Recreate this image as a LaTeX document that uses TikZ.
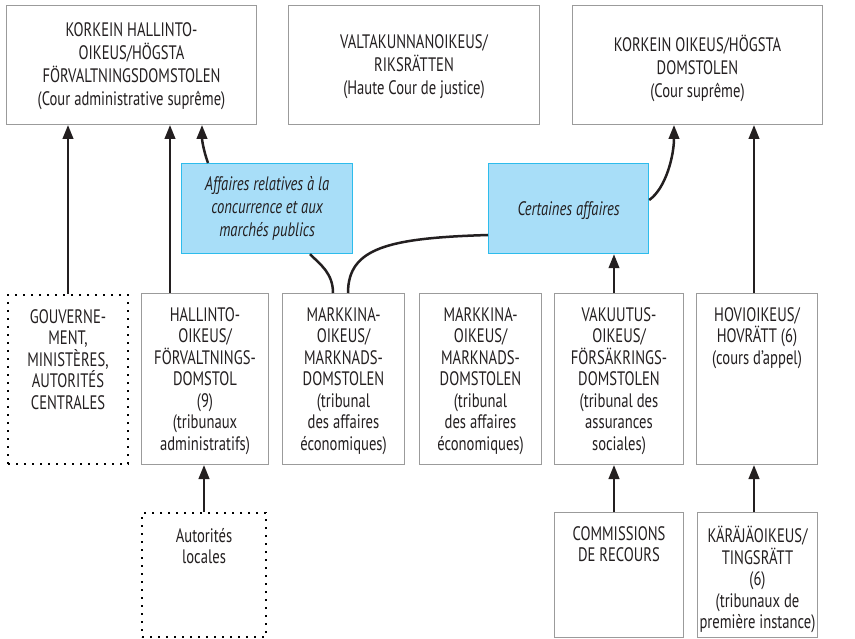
\documentclass[tikz,border=0pt]{standalone}
\usepackage{fontspec}
\setmainfont{PT Sans}[FakeStretch=0.75]
\usetikzlibrary{arrows.meta}
\definecolor{boxgray}{RGB}{155,155,155}
\definecolor{bluefill}{RGB}{168,222,248}
\definecolor{bluedraw}{RGB}{45,188,236}
\definecolor{textc}{RGB}{35,31,32}
\definecolor{linec}{RGB}{35,31,32}
\tikzset{
  box/.style={draw=boxgray, line width=1pt, fill=white, inner sep=0pt, anchor=north west},
  dotbox/.style={draw=black, line width=2pt, dash pattern=on 2pt off 6pt, inner sep=0pt, anchor=north west},
  bluebox/.style={draw=bluedraw, fill=bluefill, line width=1.2pt, inner sep=0pt, anchor=north west},
  txttop/.style={align=center, font=\fontsize{19.5}{23}\selectfont, text=textc, inner sep=0pt, anchor=north, execute at begin node=\strut},
  txtbot/.style={align=center, font=\fontsize{19.5}{21.5}\selectfont, text=textc, inner sep=0pt, anchor=north, execute at begin node=\strut},
  txtit/.style={align=center, font=\fontsize{19.5}{23}\selectfont\itshape, text=textc, inner sep=0pt, anchor=north, execute at begin node=\strut},
  arr/.style={line width=2.5pt, draw=linec, -{Triangle[width=10.5pt,length=14pt]}},
  conn/.style={line width=2.5pt, draw=linec}
}
\begin{document}
\begin{tikzpicture}[x=1pt,y=-1pt]
\useasboundingbox (0,0) rectangle (855,639);
\fill[white] (0,0) rectangle (855,639);
% top row
\node[box, minimum width=250pt, minimum height=119pt] (a) at (6,5) {};
\node[box, minimum width=251pt, minimum height=119pt] (b) at (288,5) {};
\node[box, minimum width=250pt, minimum height=119pt] (c) at (572,5) {};
\node[txttop] (at) at ([yshift=-17.9pt]a.north) {KORKEIN HALLINTO-\\OIKEUS/HÖGSTA\\FÖRVALTNINGSDOMSTOLEN\\(Cour administrative suprême)};
\node[txttop] (bt) at ([yshift=-29.9pt]b.north) {VALTAKUNNANOIKEUS/\\RIKSRÄTTEN\\(Haute Cour de justice)};
\node[txttop] (ct) at ([yshift=-29.9pt]c.north) {KORKEIN OIKEUS/HÖGSTA\\DOMSTOLEN\\(Cour suprême)};
% blue boxes
\node[bluebox, minimum width=171pt, minimum height=90pt] (b1) at (181,163) {};
\node[bluebox, minimum width=160pt, minimum height=90pt] (b2) at (488,163) {};
\node[txtit] (b1t) at ([yshift=-12.9pt]b1.north) {Affaires relatives à la\\concurrence et aux\\marchés publics};
\node[txtit] (b2t) at ([yshift=-35.9pt]b2.north) {Certaines affaires};
% middle row
\node[dotbox, minimum width=120pt, minimum height=169pt] (gouv) at (7,294) {};
\node[box, minimum width=127pt, minimum height=171pt] (hall) at (141,293) {};
\node[box, minimum width=122pt, minimum height=171pt] (mark1) at (282,293) {};
\node[box, minimum width=122pt, minimum height=171pt] (mark2) at (419,293) {};
\node[box, minimum width=129pt, minimum height=171pt] (vak) at (554,293) {};
\node[box, minimum width=121pt, minimum height=171pt] (hovi) at (696,293) {};
\node[txtbot] (gouvt) at ([yshift=-14.95pt]gouv.north) {GOUVERNE-\\MENT,\\MINISTÈRES,\\AUTORITÉS\\CENTRALES};
\node[txtbot] (hallt) at ([yshift=-13.95pt]hall.north) {HALLINTO-\\OIKEUS/\\FÖRVALTNINGS-\\DOMSTOL\\(9)\\(tribunaux\\administratifs)};
\node[txtbot] (mark1t) at ([yshift=-13.95pt]mark1.north) {MARKKINA-\\OIKEUS/\\MARKNADS-\\DOMSTOLEN\\(tribunal\\des affaires\\économiques)};
\node[txtbot] (mark2t) at ([yshift=-13.95pt]mark2.north) {MARKKINA-\\OIKEUS/\\MARKNADS-\\DOMSTOLEN\\(tribunal\\des affaires\\économiques)};
\node[txtbot] (vakt) at ([yshift=-13.95pt]vak.north) {VAKUUTUS-\\OIKEUS/\\FÖRSÄKRINGS-\\DOMSTOLEN\\(tribunal des\\assurances\\sociales)};
\node[txtbot] (hovit) at ([yshift=-13.95pt]hovi.north) {HOVIOIKEUS/\\HOVRÄTT (6)\\(cours d’appel)};
% bottom row
\node[dotbox, minimum width=124pt, minimum height=124pt] (aut) at (141,512) {};
\node[box, minimum width=129pt, minimum height=125pt] (comm) at (554,512) {};
\node[box, minimum width=120pt, minimum height=125pt] (kar) at (697,512) {};
\node[txtbot] (autt) at ([yshift=-15.95pt]aut.north) {Autorités\\locales};
\node[txtbot] (commt) at ([yshift=-13.95pt]comm.north) {COMMISSIONS\\DE RECOURS};
\node[txtbot] (kart) at ([yshift=-13.95pt]kar.north) {KÄRÄJÄOIKEUS/\\TINGSRÄTT\\(6)\\(tribunaux de\\première instance)};
% anchor coordinates
\coordinate (h1) at ([xshift=29pt]hall.north west);
\coordinate (b1s) at ([xshift=27pt]b1.north west);
\coordinate (ab1) at ([xshift=196pt]a.south west);
\coordinate (m1a) at ([xshift=51pt]mark1.north west);
\coordinate (m1b) at ([xshift=66pt]mark1.north west);
\coordinate (b1b) at ([xshift=129pt]b1.south west);
\coordinate (b2l) at ([yshift=-72pt]b2.north west);
\coordinate (b2r) at ([yshift=-37pt]b2.north east);
\coordinate (cb2) at ([xshift=102pt]c.south west);
\coordinate (v1) at ([xshift=60pt]vak.north west);
\coordinate (v2) at ([xshift=60pt]vak.south west);
\coordinate (hv1) at ([xshift=58pt]hovi.north west);
\coordinate (hv2) at ([xshift=58pt]hovi.south west);
% connectors
\draw[arr] (gouv.north) -- (gouv.north |- a.south);
\draw[arr] (h1) -- (h1 |- a.south);
\draw[arr] (b1s) .. controls +(-5,-14) and +(0,14) .. (ab1);
\draw[conn] (m1a) .. controls +(0,-20) and +(10,10) .. (b1b);
\draw[conn] (m1b) .. controls +(0,-45) and +(-100,3) .. (b2l);
\draw[arr] (b2r) .. controls +(17,-12) and +(0,30) .. (cb2);
\draw[arr] (v1) -- (v1 |- b2.south);
\draw[arr] (hv1) -- (hv1 |- c.south);
\draw[arr] (aut.north) -- (aut.north |- hall.south);
\draw[arr] (comm.north -| v2) -- (v2);
\draw[arr] (kar.north -| hv2) -- (hv2);
\end{tikzpicture}
\end{document}
